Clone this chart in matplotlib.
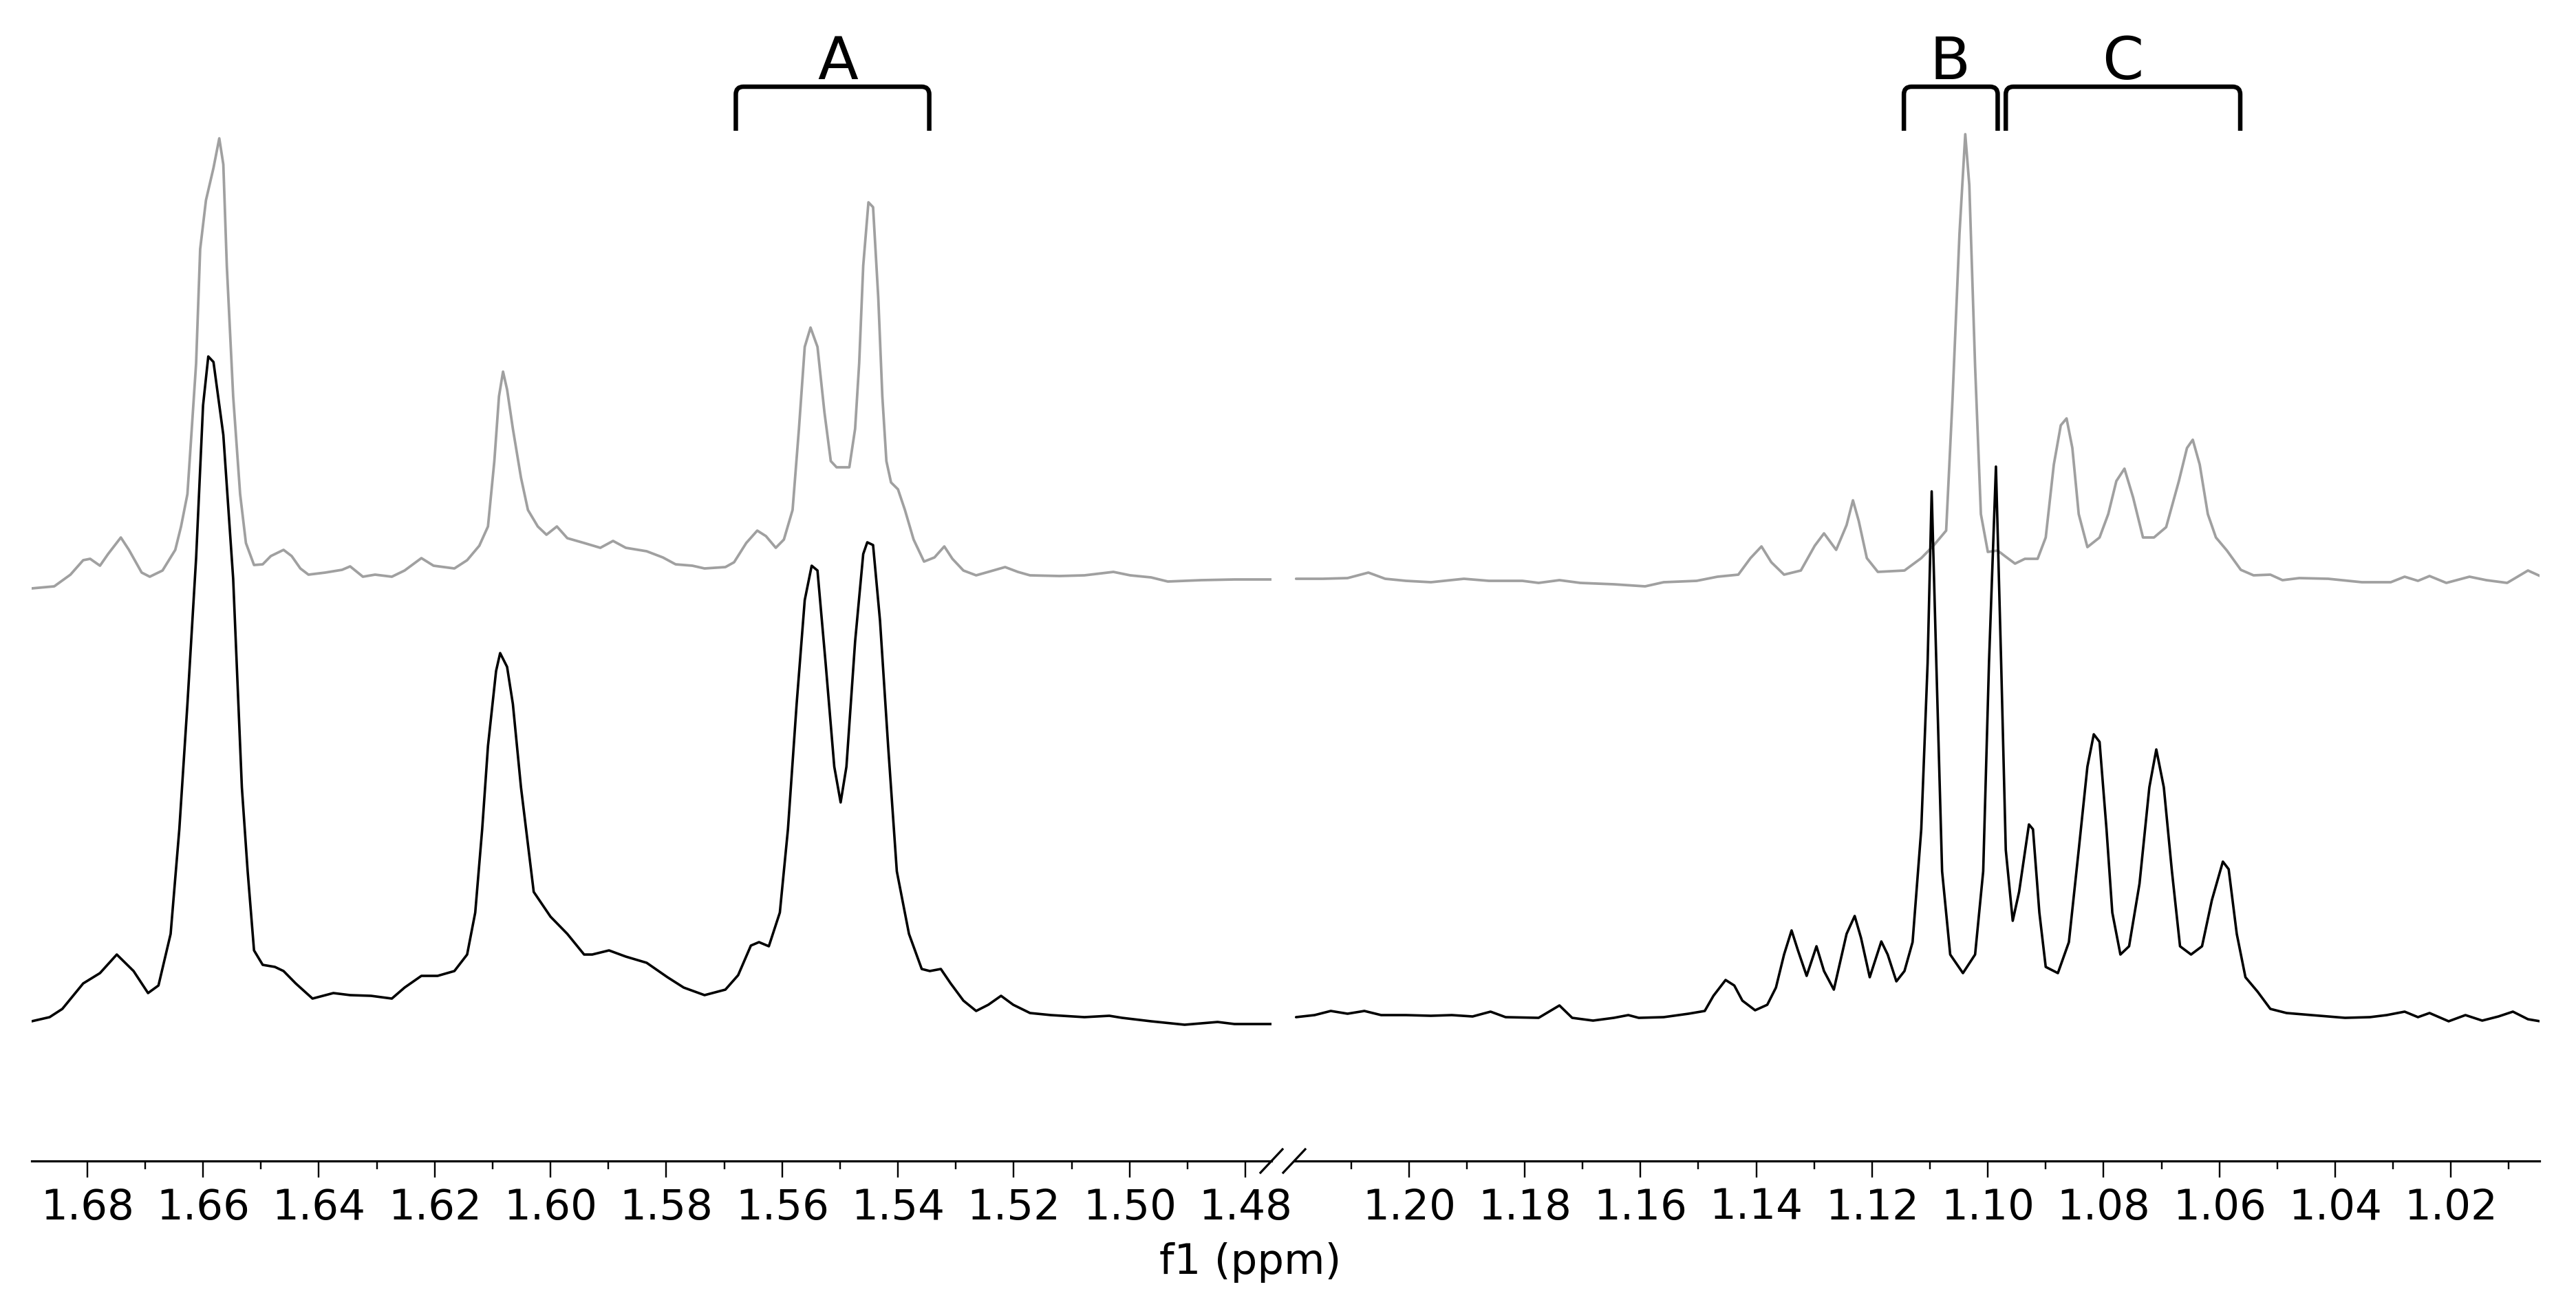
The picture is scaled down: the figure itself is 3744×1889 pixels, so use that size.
import matplotlib
matplotlib.use('Agg')
import matplotlib.pyplot as plt
from matplotlib.path import Path
from matplotlib.patches import PathPatch
from matplotlib.lines import Line2D
from matplotlib.ticker import MultipleLocator, FormatStrFormatter

# ---------------- data (ppm, intensity a.u.) ----------------
black_left = [
    (1.6896, 5), (1.6865, 11), (1.6843, 23), (1.6807, 60), (1.6778, 75), (1.6749, 102),
    (1.6720, 78), (1.6695, 46), (1.6677, 57), (1.6656, 132), (1.6641, 284), (1.6627, 466),
    (1.6612, 678), (1.6600, 900), (1.6591, 971), (1.6582, 963), (1.6565, 857), (1.6548, 648),
    (1.6533, 345), (1.6523, 223), (1.6512, 108), (1.6497, 87), (1.6476, 84), (1.6461, 78),
    (1.6440, 60), (1.6411, 38), (1.6375, 46), (1.6346, 43), (1.6310, 42), (1.6274, 38),
    (1.6252, 54), (1.6223, 71), (1.6195, 71), (1.6166, 78), (1.6144, 102), (1.6130, 163),
    (1.6118, 284), (1.6108, 405), (1.6094, 514), (1.6087, 540), (1.6075, 520), (1.6065, 466),
    (1.6051, 345), (1.6029, 193), (1.6000, 157), (1.5971, 132), (1.5942, 102), (1.5928, 102),
    (1.5899, 108), (1.5870, 99), (1.5834, 90), (1.5798, 69), (1.5770, 54), (1.5734, 43),
    (1.5698, 51), (1.5676, 72), (1.5654, 115), (1.5640, 120), (1.5623, 114), (1.5604, 163),
    (1.5590, 284), (1.5575, 466), (1.5561, 617), (1.5549, 667), (1.5539, 660), (1.5525, 526),
    (1.5510, 375), (1.5499, 323), (1.5489, 375), (1.5474, 557), (1.5460, 684), (1.5453, 701),
    (1.5443, 697), (1.5431, 587), (1.5417, 405), (1.5402, 223), (1.5381, 132), (1.5359, 81),
    (1.5345, 78), (1.5326, 81), (1.5309, 60), (1.5287, 35), (1.5265, 20), (1.5244, 29),
    (1.5222, 42), (1.5201, 29), (1.5172, 17), (1.5136, 14), (1.5078, 11), (1.5035, 13),
    (1.5013, 10), (1.4963, 5), (1.4905, 0), (1.4848, 4), (1.4819, 1), (1.4754, 1),
]

gray_left = [
    (1.6896, -6), (1.6857, -3), (1.6829, 14), (1.6807, 35), (1.6795, 37), (1.6778, 27),
    (1.6764, 44), (1.6742, 68), (1.6728, 50), (1.6706, 17), (1.6692, 11), (1.6670, 20),
    (1.6648, 50), (1.6638, 84), (1.6627, 131), (1.6612, 321), (1.6605, 487), (1.6595, 558),
    (1.6582, 605), (1.6572, 648), (1.6565, 610), (1.6559, 463), (1.6548, 273), (1.6536, 131),
    (1.6526, 60), (1.6512, 28), (1.6497, 29), (1.6483, 41), (1.6461, 50), (1.6447, 41),
    (1.6432, 23), (1.6418, 14), (1.6389, 17), (1.6360, 21), (1.6346, 26), (1.6324, 11),
    (1.6303, 14), (1.6274, 11), (1.6252, 20), (1.6223, 38), (1.6202, 27), (1.6166, 23),
    (1.6144, 35), (1.6123, 56), (1.6108, 84), (1.6097, 179), (1.6089, 273), (1.6082, 309),
    (1.6075, 283), (1.6065, 226), (1.6051, 155), (1.6039, 108), (1.6022, 84), (1.6007, 72),
    (1.5989, 84), (1.5971, 67), (1.5942, 60), (1.5914, 53), (1.5892, 63), (1.5870, 53),
    (1.5834, 48), (1.5806, 39), (1.5784, 29), (1.5755, 27), (1.5734, 23), (1.5698, 25),
    (1.5683, 32), (1.5662, 60), (1.5643, 78), (1.5628, 70), (1.5611, 53), (1.5597, 65),
    (1.5582, 108), (1.5571, 226), (1.5561, 345), (1.5551, 373), (1.5539, 345), (1.5527, 250),
    (1.5516, 179), (1.5506, 170), (1.5484, 170), (1.5474, 226), (1.5467, 321), (1.5460, 463),
    (1.5451, 555), (1.5443, 548), (1.5434, 416), (1.5427, 273), (1.5420, 179), (1.5412, 148),
    (1.5400, 138), (1.5388, 108), (1.5373, 65), (1.5355, 33), (1.5337, 39), (1.5320, 55),
    (1.5306, 37), (1.5287, 20), (1.5265, 13), (1.5244, 18), (1.5215, 25), (1.5193, 18),
    (1.5172, 13), (1.5121, 12), (1.5078, 13), (1.5028, 18), (1.4999, 13), (1.4963, 10),
    (1.4934, 4), (1.4876, 6), (1.4819, 7), (1.4754, 7),
]

black_right = [
    (1.2195, 11), (1.2163, 14), (1.2135, 20), (1.2106, 16), (1.2077, 20), (1.2048, 14),
    (1.2005, 14), (1.1962, 13), (1.1926, 14), (1.1890, 12), (1.1859, 19), (1.1833, 11),
    (1.1776, 10), (1.1740, 28), (1.1718, 10), (1.1682, 6), (1.1646, 10), (1.1621, 14),
    (1.1603, 10), (1.1560, 11), (1.1517, 16), (1.1489, 20), (1.1474, 42), (1.1453, 65),
    (1.1438, 57), (1.1424, 35), (1.1402, 21), (1.1381, 29), (1.1366, 54), (1.1352, 102),
    (1.1339, 137), (1.1328, 108), (1.1313, 71), (1.1296, 114), (1.1283, 78), (1.1266, 51),
    (1.1244, 132), (1.1230, 158), (1.1219, 126), (1.1204, 69), (1.1184, 121), (1.1173, 102),
    (1.1158, 63), (1.1144, 78), (1.1130, 120), (1.1115, 284), (1.1104, 526), (1.1097, 775),
    (1.1089, 526), (1.1079, 223), (1.1065, 102), (1.1043, 75), (1.1022, 102), (1.1008, 223),
    (1.0998, 526), (1.0986, 811), (1.0977, 526), (1.0969, 254), (1.0957, 151), (1.0946, 193),
    (1.0929, 291), (1.0922, 284), (1.0911, 163), (1.0900, 84), (1.0879, 75), (1.0860, 120),
    (1.0843, 254), (1.0828, 375), (1.0817, 422), (1.0807, 411), (1.0795, 284), (1.0785, 163),
    (1.0771, 102), (1.0756, 114), (1.0738, 205), (1.0721, 345), (1.0709, 400), (1.0696, 345),
    (1.0682, 223), (1.0668, 114), (1.0649, 102), (1.0630, 114), (1.0613, 181), (1.0594, 237),
    (1.0584, 226), (1.0570, 132), (1.0555, 69), (1.0534, 48), (1.0512, 23), (1.0484, 17),
    (1.0441, 14), (1.0383, 10), (1.0340, 11), (1.0311, 14), (1.0280, 19), (1.0257, 11),
    (1.0237, 17), (1.0204, 5), (1.0175, 14), (1.0146, 6), (1.0118, 12), (1.0093, 19),
    (1.0067, 8), (1.0046, 5),
]

gray_right = [
    (1.2195, 8), (1.2149, 8), (1.2106, 9), (1.2070, 17), (1.2041, 8), (1.2005, 5),
    (1.1962, 3), (1.1905, 8), (1.1862, 5), (1.1804, 5), (1.1776, 2), (1.1740, 6),
    (1.1704, 2), (1.1646, 0), (1.1592, -3), (1.1560, 3), (1.1503, 5), (1.1467, 11),
    (1.1431, 14), (1.1410, 38), (1.1391, 55), (1.1374, 32), (1.1352, 14), (1.1323, 20),
    (1.1299, 56), (1.1283, 74), (1.1262, 50), (1.1244, 86), (1.1233, 122), (1.1223, 92),
    (1.1209, 38), (1.1190, 18), (1.1144, 20), (1.1115, 38), (1.1094, 56), (1.1072, 78),
    (1.1061, 269), (1.1049, 509), (1.1039, 654), (1.1032, 580), (1.1022, 317), (1.1012, 102),
    (1.1000, 47), (1.0983, 49), (1.0969, 40), (1.0953, 30), (1.0936, 37), (1.0914, 37),
    (1.0900, 68), (1.0886, 174), (1.0874, 231), (1.0864, 241), (1.0854, 198), (1.0843, 102),
    (1.0828, 54), (1.0807, 68), (1.0792, 102), (1.0778, 150), (1.0764, 168), (1.0749, 126),
    (1.0732, 68), (1.0713, 68), (1.0692, 83), (1.0670, 150), (1.0656, 198), (1.0646, 210),
    (1.0634, 174), (1.0620, 102), (1.0606, 68), (1.0587, 49), (1.0563, 21), (1.0541, 13),
    (1.0512, 14), (1.0491, 6), (1.0462, 9), (1.0412, 8), (1.0354, 3), (1.0304, 3),
    (1.0280, 11), (1.0257, 5), (1.0237, 12), (1.0208, 2), (1.0168, 11), (1.0139, 6),
    (1.0103, 2), (1.0067, 20), (1.0046, 12),
]

x_range_left = (1.6896, 1.4755)
x_range_right = (1.2197, 1.0047)

# integration brackets: (label, ppm_start, ppm_end, label_ppm)
brackets = [
    ("A", 1.5680, 1.5346, 1.5504),
    ("B", 1.1145, 1.0983, 1.1065),
    ("C", 1.0969, 1.0564, 1.0767),
]
x_label = "f1 (ppm)"

# ---------------- layout ----------------
W, H = 3744, 1890
DPI = 100
PX = 72.0 / DPI           # points per pixel
AX_Y = 1688               # axis line, px from top
BLACK_OFF = 198
GRAY_OFF = 838
FONT = ['DejaVu Sans']

plt.rcParams['font.family'] = FONT
fig = plt.figure(figsize=(W / DPI, H / DPI), dpi=DPI)
fig.patch.set_facecolor('white')


def fx(px):
    return px / W


def fy(py):
    return 1 - py / H


axL = fig.add_axes([fx(46), fy(AX_Y), fx(1848 - 46), AX_Y / H])
axR = fig.add_axes([fx(1882), fy(AX_Y), fx(3691 - 1882), AX_Y / H])

GRAY = '#a0a0a0'
for ax, blk, gry, xr in [(axL, black_left, gray_left, x_range_left),
                         (axR, black_right, gray_right, x_range_right)]:
    gx, gy = zip(*gry)
    bx, by = zip(*blk)
    ax.plot(gx, [v + GRAY_OFF for v in gy], color=GRAY, lw=2.7, solid_joinstyle='round',
            solid_capstyle='round', zorder=2)
    ax.plot(bx, [v + BLACK_OFF for v in by], color='black', lw=2.6, solid_joinstyle='round',
            solid_capstyle='round', zorder=3)
    ax.set_xlim(*xr)
    ax.set_ylim(0, AX_Y)
    for s in ('left', 'right', 'top'):
        ax.spines[s].set_visible(False)
    ax.spines['bottom'].set_linewidth(3.2 * PX)
    ax.set_yticks([])
    ax.xaxis.set_major_locator(MultipleLocator(0.02))
    ax.xaxis.set_minor_locator(MultipleLocator(0.01))
    ax.xaxis.set_major_formatter(FormatStrFormatter('%.2f'))
    ax.tick_params(axis='x', which='major', direction='out', length=24 * PX, width=2.4 * PX,
                   labelsize=44, pad=14 * PX)
    ax.tick_params(axis='x', which='minor', direction='out', length=12 * PX, width=2.4 * PX)
    ax.patch.set_alpha(0)

# brackets
r_px = 11
for ax_, items in [(axL, brackets[:1]), (axR, brackets[1:])]:
    for lab, p0, p1, pl in items:
        rx = r_px / 8413.0
        top = AX_Y - 127
        bot = AX_Y - 191
        verts = [(p0, bot), (p0, top - r_px), (p0, top), (p0 - rx, top),
                 (p1 + rx, top), (p1, top), (p1, top - r_px), (p1, bot)]
        codes = [Path.MOVETO, Path.LINETO, Path.CURVE3, Path.CURVE3,
                 Path.LINETO, Path.CURVE3, Path.CURVE3, Path.LINETO]
        ax_.add_patch(PathPatch(Path(verts, codes), fill=False, lw=6.5 * PX, color='black',
                                capstyle='butt', joinstyle='round', clip_on=False))
        ax_.text(pl, AX_Y - 115, lab, ha='center', va='baseline', fontsize=62, color='black')

# axis break marks
for cx in (1848, 1881):
    fig.add_artist(Line2D([fx(cx - 16), fx(cx + 16)], [fy(AX_Y + 17), fy(AX_Y - 17)],
                          transform=fig.transFigure, color='black', lw=3.2 * PX))

fig.text(fx(1817), fy(1805), x_label, ha='center', va='top', fontsize=44)

fig.savefig('out.png', dpi=DPI, facecolor='white')
